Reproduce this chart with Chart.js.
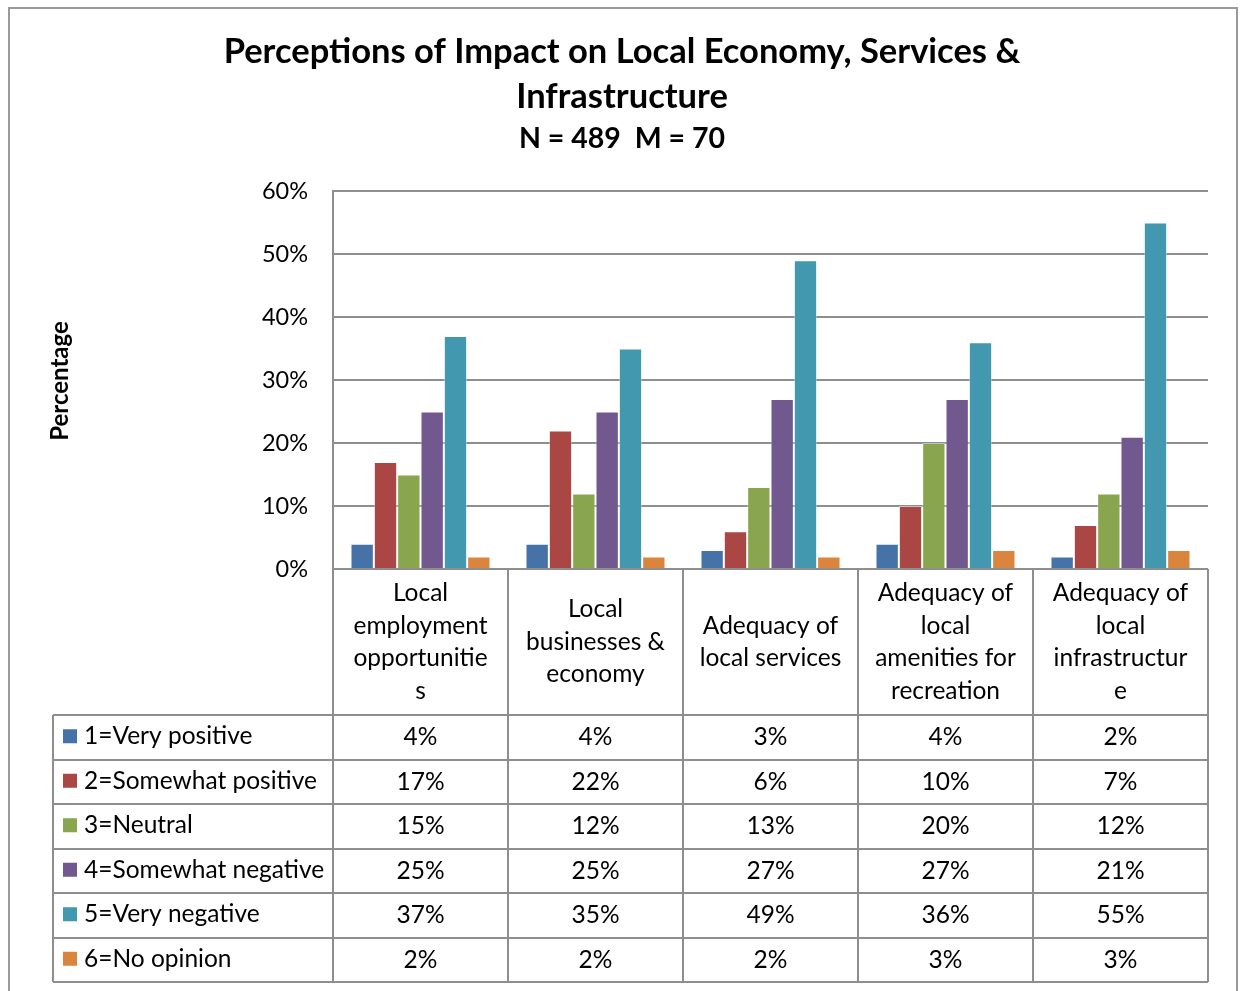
<!DOCTYPE html>
<html>
<head>
<meta charset="utf-8">
<script src="https://cdn.jsdelivr.net/npm/chart.js@4"></script>
<style>
  html, body { margin: 0; padding: 0; background: #fff; }
  #wrap { position: relative; width: 1243px; height: 991px; }
</style>
</head>
<body>
<div id="wrap"><canvas id="grafico" width="1243" height="991"></canvas></div>
<script>
// datos
const categorias = [
    ['Local', 'employment', 'opportunitie', 's'],
    ['Local', 'businesses &', 'economy'],
    ['Adequacy of', 'local services'],
    ['Adequacy of', 'local', 'amenities for', 'recreation'],
    ['Adequacy of', 'local', 'infrastructur', 'e']
];
const series = ['1=Very positive', '2=Somewhat positive', '3=Neutral', '4=Somewhat negative', '5=Very negative', '6=No opinion'];
const muyPositivo = [4, 4, 3, 4, 2];
const algoPositivo = [17, 22, 6, 10, 7];
const neutral = [15, 12, 13, 20, 12];
const algoNegativo = [25, 25, 27, 27, 21];
const muyNegativo = [37, 35, 49, 36, 55];
const sinOpinion = [2, 2, 2, 3, 3];
const colores = ['#4572A7', '#AA4643', '#89A54E', '#71588F', '#4198AF', '#DB843D'];
const valores = [muyPositivo, algoPositivo, neutral, algoNegativo, muyNegativo, sinOpinion];

const FONT = 'Lato, "Open Sans", sans-serif';
const GRIS = '#8e8e8e';

// tabla de datos debajo del grafico
const tablaPlugin = {
    id: 'tabla',
    afterDraw(chart) {
        const ctx = chart.ctx;
        const area = chart.chartArea;
        const x = chart.scales.x;
        const ancho = (area.right - area.left) / categorias.length;
        const top = area.bottom;
        const filaTop = 715;
        const altoFila = 44.5;
        const izq = 53;
        const bottom = filaTop + altoFila * series.length;

        ctx.save();
        ctx.strokeStyle = GRIS;
        ctx.lineWidth = 2;
        ctx.beginPath();
        // verticales
        for (let i = 0; i <= categorias.length; i++) {
            const px = Math.round(area.left + i * ancho);
            ctx.moveTo(px, top);
            ctx.lineTo(px, bottom);
        }
        ctx.moveTo(izq, filaTop);
        ctx.lineTo(izq, bottom);
        // horizontales
        for (let r = 0; r <= series.length; r++) {
            const py = Math.round(filaTop + r * altoFila);
            ctx.moveTo(izq, py);
            ctx.lineTo(area.right, py);
        }
        ctx.stroke();

        ctx.fillStyle = '#000';
        ctx.font = '24.5px ' + FONT;
        ctx.textAlign = 'center';
        ctx.textBaseline = 'middle';
        const lh = 32.5;
        const midCat = (top + filaTop) / 2;
        categorias.forEach((lineas, i) => {
            const cx = x.getPixelForValue(i);
            const y0 = midCat - (lineas.length - 1) * lh / 2;
            lineas.forEach((t, k) => ctx.fillText(t, cx, y0 + k * lh));
        });

        series.forEach((s, r) => {
            const cy = filaTop + r * altoFila + altoFila / 2;
            ctx.fillStyle = colores[r];
            ctx.fillRect(63, cy - 8, 14, 14);
            ctx.fillStyle = '#000';
            ctx.textAlign = 'left';
            ctx.fillText(s, 84, cy - 1);
            ctx.textAlign = 'center';
            valores[r].forEach((v, i) => {
                ctx.fillText(v + '%', x.getPixelForValue(i), cy);
            });
        });

        // titulos
        ctx.font = 'bold 34.5px ' + FONT;
        ctx.fillText('Perceptions of Impact on Local Economy, Services &', 622, 52);
        ctx.fillText('Infrastructure', 622, 97);
        ctx.font = 'bold 28.5px ' + FONT;
        ctx.fillText('N = 489  M = 70', 622, 139);

        ctx.translate(60, 381);
        ctx.rotate(-Math.PI / 2);
        ctx.font = 'bold 24px ' + FONT;
        ctx.fillText('Percentage', 0, 0);
        ctx.restore();
    }
};

const ctxGrafico = document.getElementById('grafico');

let grafico = new Chart(ctxGrafico, {
    type: 'bar',
    data: {
        labels: categorias.map(c => c.join(' ')),
        datasets: series.map((s, i) => ({
            label: s,
            data: valores[i],
            backgroundColor: colores[i],
            borderColor: 'rgba(255,255,255,0.45)',
            borderWidth: 1
        }))
    },
    options: {
        responsive: false,
        animation: false,
        devicePixelRatio: 1,
        layout: { padding: { left: 0, right: 35, top: 191, bottom: 422 } },
        plugins: {
            legend: { display: false },
            tooltip: { enabled: false },
            title: { display: false }
        },
        datasets: { bar: { categoryPercentage: 0.8, barPercentage: 1 } },
        scales: {
            x: { display: false },
            y: {
                min: 0,
                max: 60,
                ticks: {
                    stepSize: 10,
                    padding: 25,
                    color: '#000',
                    font: { family: FONT, size: 23.5 },
                    callback: v => v + '%'
                },
                grid: { color: GRIS, lineWidth: 2, drawTicks: false },
                border: { color: GRIS, width: 2 },
                afterFit: s => { s.width = 333; }
            }
        }
    },
    plugins: [tablaPlugin, {
        id: 'marco',
        beforeDraw(chart) {
            const c = chart.ctx;
            c.save();
            c.fillStyle = '#fff';
            c.fillRect(0, 0, chart.width, chart.height);
            c.strokeStyle = '#9a9a9a';
            c.lineWidth = 2;
            c.strokeRect(9, 8, 1228, 1000);
            c.restore();
        }
    }]
});
</script>
</body>
</html>
